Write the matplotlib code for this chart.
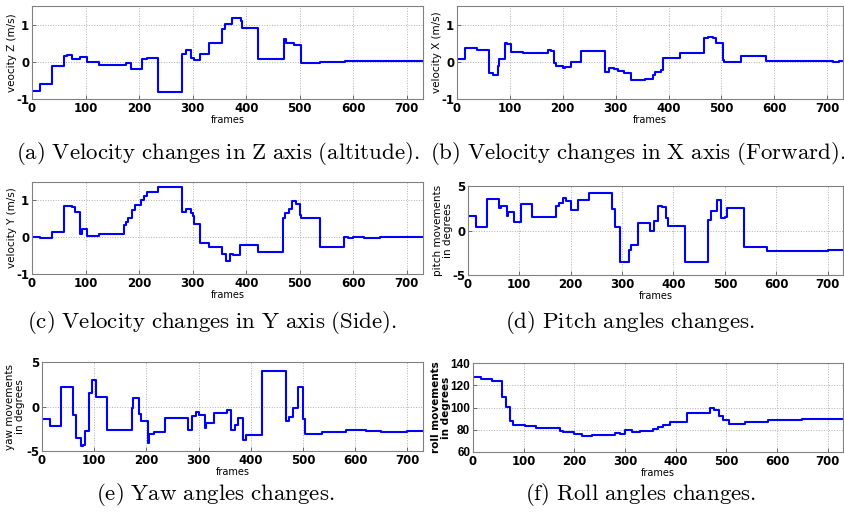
import matplotlib
matplotlib.use("Agg")
import matplotlib.pyplot as plt

plt.rcParams['mathtext.fontset'] = 'cm'
plt.rcParams['axes.unicode_minus'] = False

X_MAX = 730

# ---- data: change-point frames and step values ----
vz_frames = [0, 15, 37, 60, 65, 75, 90, 103, 125, 175, 185, 205, 215, 235, 280, 287, 297, 302, 313, 330,
             355, 360, 373, 390, 393, 422, 470, 475, 490, 503, 537, 585, 712, 722]
vz_vals = [-0.78, -0.6, -0.1, 0.15, 0.18, 0.07, 0.13, 0.0, -0.08, -0.02, -0.2, 0.07, 0.1, -0.8, 0.2, 0.32,
           0.1, 0.06, 0.2, 0.5, 0.88, 1.02, 1.17, 1.1, 0.92, 0.08, 0.6, 0.5, 0.45, -0.04, 0.0, 0.02, 0.01, 0.02]

vx_frames = [0, 15, 37, 60, 68, 77, 80, 90, 95, 103, 125, 172, 177, 183, 187, 200, 205, 215, 235, 280, 287,
             297, 305, 315, 330, 355, 370, 375, 385, 390, 422, 468, 475, 485, 490, 503, 505, 537, 585, 712, 722]
vx_vals = [0.08, 0.36, 0.31, -0.3, -0.36, -0.1, 0.08, 0.5, 0.47, 0.27, 0.24, 0.33, 0.28, -0.04, -0.1, -0.17,
           -0.13, 0.0, 0.28, -0.27, -0.16, -0.2, -0.25, -0.29, -0.49, -0.45, -0.36, -0.27, -0.22, 0.1, 0.24,
           0.65, 0.68, 0.65, 0.51, 0.05, 0.0, 0.15, 0.02, 0.0, 0.02]

vy_frames = [0, 15, 37, 60, 75, 80, 90, 93, 103, 125, 172, 175, 180, 187, 192, 203, 210, 215, 235, 280, 287,
             296, 300, 302, 313, 330, 355, 362, 370, 375, 388, 422, 468, 473, 480, 485, 493, 500, 503, 537, 583,
             590, 600, 610, 620, 650]
vy_vals = [0.0, -0.03, 0.13, 0.86, 0.81, 0.68, 0.08, 0.21, 0.03, 0.1, 0.33, 0.42, 0.51, 0.74, 0.88, 1.02, 1.11,
           1.23, 1.37, 0.69, 0.76, 0.65, 0.58, 0.35, -0.16, -0.27, -0.47, -0.65, -0.47, -0.49, -0.2, -0.41, 0.51,
           0.66, 0.76, 0.99, 0.9, 0.6, 0.51, -0.27, 0.0, -0.03, 0.0, 0.01, -0.01, 0.0]

pitch_frames = [0, 15, 37, 60, 65, 75, 78, 90, 93, 103, 125, 172, 177, 185, 190, 200, 215, 235, 280, 287, 295,
                313, 318, 330, 355, 363, 370, 378, 385, 390, 422, 468, 473, 485, 493, 500, 505, 537, 583, 700]
pitch_vals = [1.65, 0.37, 3.5, 2.5, 2.8, 1.65, 2.1, 1.0, 0.95, 3.0, 1.57, 2.8, 3.07, 3.6, 3.3, 2.3, 3.4, 4.2, 2.4,
              0.37, -3.55, -2.2, -1.6, 0.8, -0.1, 1.1, 2.75, 2.6, 1.45, 0.55, -3.55, 1.2, 2.2, 3.45, 1.45, 1.57,
              2.5, -1.87, -2.25, -2.15]

yaw_frames = [0, 15, 37, 60, 65, 75, 78, 82, 90, 95, 103, 125, 172, 175, 185, 190, 203, 205, 215, 235, 280, 287,
              295, 300, 313, 315, 330, 355, 363, 370, 375, 385, 390, 422, 468, 473, 480, 490, 500, 503, 537, 583,
              595, 620, 650, 700]
yaw_vals = [-1.38, -2.24, 2.16, -0.9, -3.55, -4.45, -4.27, -2.8, 1.53, 3.0, 1.12, -2.6, -0.15, 0.93, -0.82, -1.68,
            -4.07, -3.06, -2.87, -1.31, -2.6, -1.12, -0.63, -0.93, -2.42, -1.8, -0.75, -0.37, -2.6, -2.13, -1.3,
            -3.73, -3.17, 3.95, -1.64, -1.2, -0.2, 2.24, -1.38, -3.13, -2.87, -2.69, -2.6, -2.7, -2.87, -2.8]

roll_frames = [0, 15, 37, 58, 65, 73, 78, 100, 103, 125, 172, 177, 200, 215, 235, 280, 290, 300, 313, 330, 355,
               365, 375, 388, 422, 468, 475, 485, 493, 505, 537, 583, 650, 700]
roll_vals = [127.1, 125.6, 123.5, 109.0, 100.5, 88.0, 84.6, 84.3, 83.4, 81.6, 79.0, 77.7, 76.6, 74.4, 75.0, 77.3,
             76.6, 79.6, 78.0, 78.9, 80.8, 82.9, 83.9, 86.6, 95.1, 99.3, 97.5, 92.2, 89.2, 85.3, 87.4, 88.9, 89.3,
             90.0]

panels = [
    dict(f=vz_frames, v=vz_vals, ylabel='veocity Z (m/s)', ylim=(-1, 1.5), yticks=[-1, 0, 1],
         rect=(32, 6, 423, 99), lab_x=12,
         cap=r'$\mathrm{(a)\ Velocity\ changes\ in\ Z\ axis\ (altitude).}$', cap_xy=(218, 153)),
    dict(f=vx_frames, v=vx_vals, ylabel='velocity X (m/s)', ylim=(-1, 1.5), yticks=[-1, 0, 1],
         rect=(457, 6, 843, 99), lab_x=437,
         cap=r'$\mathrm{(b)\ Velocity\ changes\ in\ X\ axis\ (Forward).}$', cap_xy=(638, 153)),
    dict(f=vy_frames, v=vy_vals, ylabel='velocity Y (m/s)', ylim=(-1, 1.5), yticks=[-1, 0, 1],
         rect=(32, 182, 423, 274), lab_x=12,
         cap=r'$\mathrm{(c)\ Velocity\ changes\ in\ Y\ axis\ (Side).}$', cap_xy=(212, 323)),
    dict(f=pitch_frames, v=pitch_vals, ylabel='pitch movements\nin degrees', ylim=(-5, 5), yticks=[-5, 0, 5],
         rect=(468, 186, 843, 275), lab_x=443,
         cap=r'$\mathrm{(d)\ Pitch\ angles\ changes.}$', cap_xy=(630, 323)),
    dict(f=yaw_frames, v=yaw_vals, ylabel='yaw movements\nin degrees', ylim=(-5, 5), yticks=[-5, 0, 5],
         rect=(42, 362, 423, 451), lab_x=15,
         cap=r'$\mathrm{(e)\ Yaw\ angles\ changes.}$', cap_xy=(215, 494)),
    dict(f=roll_frames, v=roll_vals, ylabel='roll movements\nin degrees', ylim=(60, 140),
         yticks=[60, 80, 100, 120, 140], rect=(473, 363, 843, 452), lab_x=441,
         cap=r'$\mathrm{(f)\ Roll\ angles\ changes.}$', cap_xy=(641, 494)),
]

W, H = 845, 520
fig = plt.figure(figsize=(W / 100, H / 100), dpi=100)

for i, p in enumerate(panels):
    l, t, r, b = p['rect']
    ax = fig.add_axes([l / W, 1 - b / H, (r - l) / W, (b - t) / H])
    xs = list(p['f']) + [X_MAX]
    ys = list(p['v']) + [p['v'][-1]]
    ax.plot(xs, ys, drawstyle='steps-post', color='#0000ff', lw=1.5)
    ax.set_xlim(0, X_MAX)
    ax.set_ylim(*p['ylim'])
    ax.set_xticks([0, 100, 200, 300, 400, 500, 600, 700])
    ax.set_yticks(p['yticks'])
    ax.grid(True, linestyle=':', color='#b0b0b0', linewidth=0.7)
    ax.tick_params(direction='in', length=3, width=0.6, color='#555555')
    ax.tick_params(axis='x', pad=2.5)
    ax.tick_params(axis='y', pad=2.0)
    for lab in ax.get_xticklabels():
        lab.set_fontweight('bold')
        lab.set_fontsize(8.5)
        lab.set_fontfamily('DejaVu Sans')
    for lab in ax.get_yticklabels():
        lab.set_fontweight('bold')
        lab.set_fontsize(8.5)
        lab.set_fontfamily('Liberation Sans' if i == 5 else 'DejaVu Sans')
    for s in ax.spines.values():
        s.set_color('#808080')
        s.set_linewidth(0.8)
    ax.set_xlabel('frames', fontsize=7, labelpad=0)
    ax.set_ylabel(p['ylabel'], fontsize=7.5, linespacing=1.0,
                  fontweight='bold' if i == 5 else 'normal')
    ax.yaxis.label.set_va('center')
    ax.yaxis.set_label_coords((p['lab_x'] - l) / (r - l), 0.5)
    fig.text(p['cap_xy'][0] / W, 1 - p['cap_xy'][1] / H, p['cap'], fontsize=16.5, ha='center', va='center')

fig.savefig('out.png', dpi=100)
